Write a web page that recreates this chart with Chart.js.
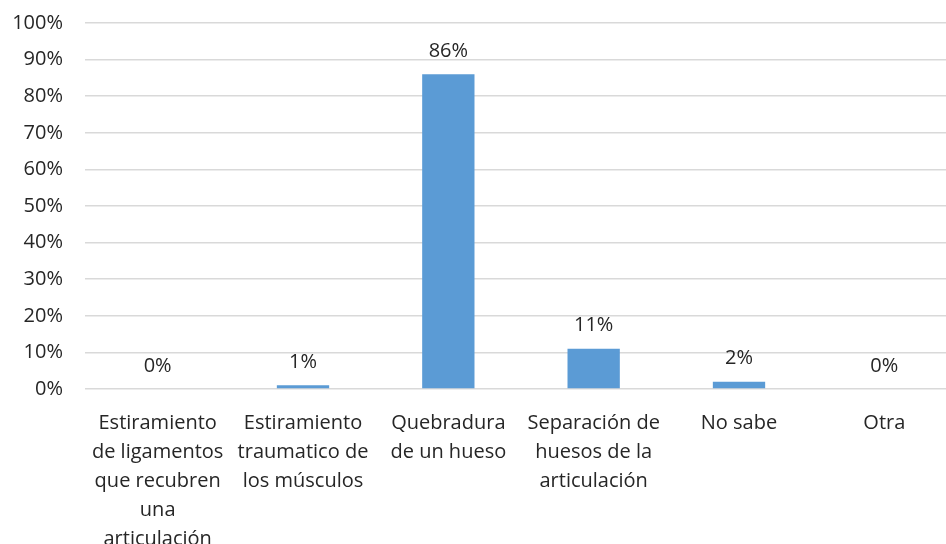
<!DOCTYPE html>
<html>
<head>
<meta charset="utf-8">
<script src="https://cdn.jsdelivr.net/npm/chart.js@4"></script>
<style>
  html, body { margin: 0; padding: 0; background: #fff; overflow: hidden; }
  #frame { width: 946px; height: 544px; overflow: hidden; position: relative; }
  #wrap { position: absolute; left: 0; top: -11px; width: 957px; height: 555px; }
</style>
</head>
<body>
<div id="frame"><div id="wrap"><canvas id="myChart"></canvas></div></div>
<script>
const categories = [
  ["Estiramiento", "de ligamentos", "que recubren", "una", "articulación"],
  ["Estiramiento", "traumatico de", "los músculos"],
  ["Quebradura", "de un hueso"],
  ["Separación de", "huesos de la", "articulación"],
  ["No sabe"],
  ["Otra"],
];
const percentages = [0, 1, 86, 11, 2, 0];
const yTicks = [0, 10, 20, 30, 40, 50, 60, 70, 80, 90, 100];

const FONT = "'Open Sans', sans-serif";
const TEXT = "#262626";

// percentage above each bar
const barLabels = {
  id: "barLabels",
  afterDatasetsDraw(chart) {
    const ctx = chart.ctx;
    const meta = chart.getDatasetMeta(0);
    ctx.save();
    ctx.font = "20px " + FONT;
    ctx.fillStyle = TEXT;
    ctx.textAlign = "center";
    ctx.textBaseline = "bottom";
    meta.data.forEach((bar, i) => {
      ctx.fillText(percentages[i] + "%", bar.x, bar.y - 13);
    });
    ctx.restore();
  },
};

const ctx = document.getElementById("myChart").getContext("2d");
new Chart(ctx, {
  type: "bar",
  data: {
    labels: categories,
    datasets: [
      {
        data: percentages,
        backgroundColor: "#5B9BD5",
        categoryPercentage: 1,
        barPercentage: 0.36,
      },
    ],
  },
  options: {
    responsive: true,
    maintainAspectRatio: false,
    animation: false,
    layout: { padding: { top: 2, right: 0, left: 0, bottom: 0 } },
    plugins: {
      legend: { display: false },
      tooltip: { enabled: false },
    },
    scales: {
      x: {
        grid: { display: false, drawTicks: false },
        border: { display: false },
        ticks: {
          color: TEXT,
          font: { family: FONT, size: 20, lineHeight: 1.45 },
          maxRotation: 0,
          autoSkip: false,
          padding: 20,
        },
        afterFit(scale) {
          scale.height = 155;
        },
      },
      y: {
        min: 0,
        max: 100,
        grid: { color: "#D9D9D9", lineWidth: 1.5, drawTicks: false },
        border: { display: false },
        afterBuildTicks(scale) {
          scale.ticks = yTicks.map((v) => ({ value: v }));
        },
        ticks: {
          color: TEXT,
          font: { family: FONT, size: 20 },
          padding: 22,
          callback: (v) => v + "%",
        },
        afterFit(scale) {
          scale.width = 85;
        },
      },
    },
  },
  plugins: [barLabels],
});
</script>
</body>
</html>
